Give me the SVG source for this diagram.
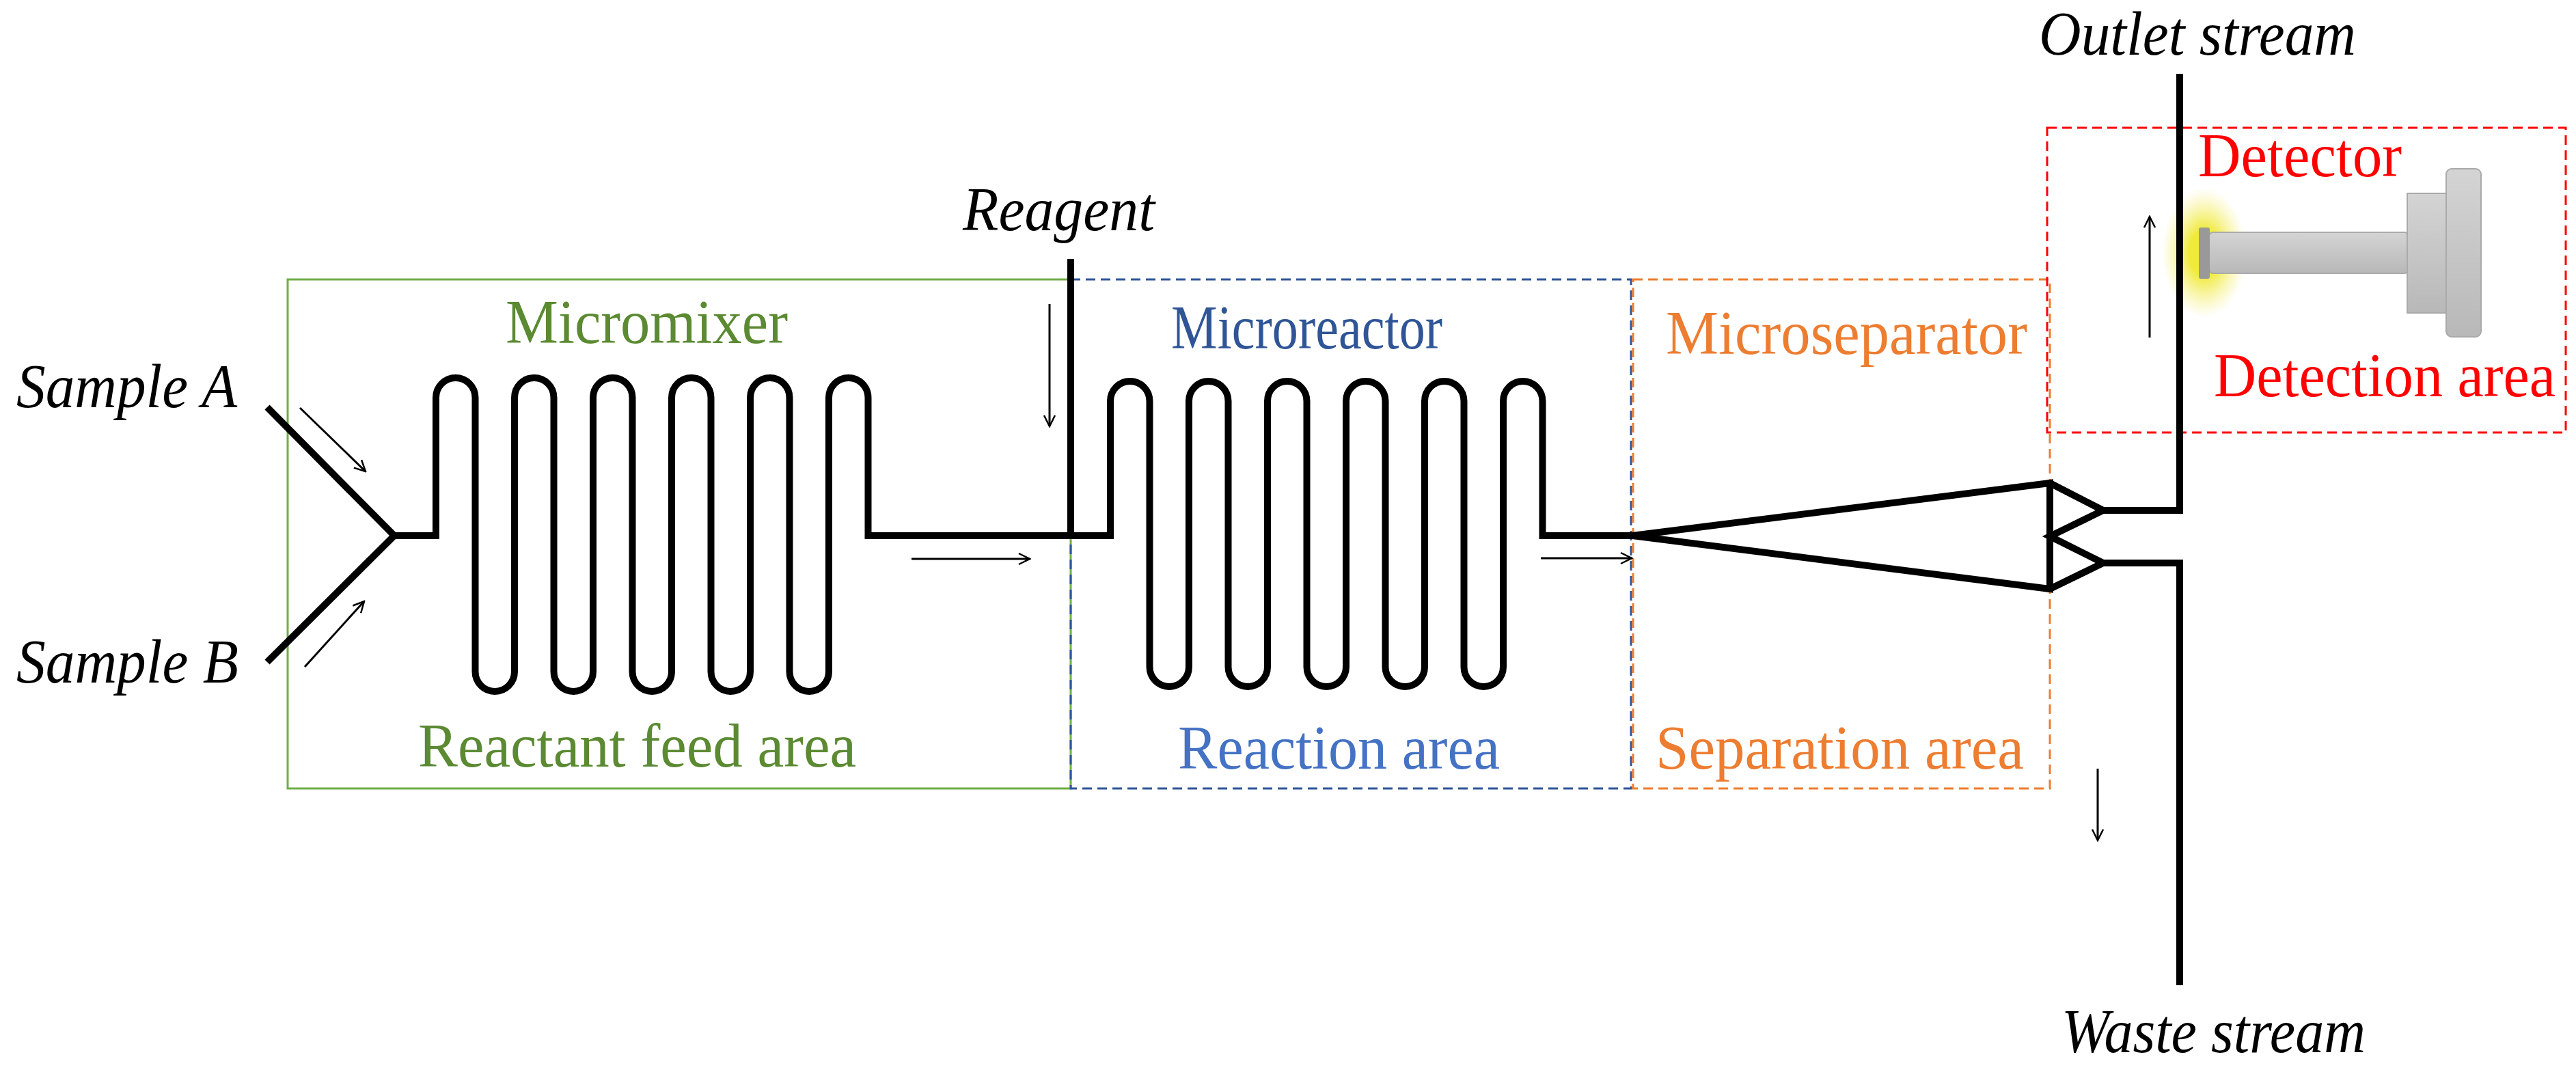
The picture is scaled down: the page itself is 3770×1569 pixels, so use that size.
<svg xmlns="http://www.w3.org/2000/svg" width="3770" height="1569" viewBox="0 0 3770 1569">
<defs>
<marker id="ah" viewBox="0 0 20 20" refX="18" refY="10" markerWidth="20" markerHeight="20" markerUnits="userSpaceOnUse" orient="auto"><path d="M2,2 L18,10 L2,18" fill="none" stroke="#000" stroke-width="2.5"/></marker>
<radialGradient id="glow"><stop offset="0.35" stop-color="#f0ea3a"/><stop offset="1" stop-color="#f6f080" stop-opacity="0"/></radialGradient>
<linearGradient id="metal" x1="0" y1="0" x2="0" y2="1"><stop offset="0" stop-color="#d4d4d4"/><stop offset="1" stop-color="#b8b8b8"/></linearGradient>
</defs>
<style>
.ch{fill:none;stroke:#000;stroke-width:10;stroke-linejoin:miter}
.ar{fill:none;stroke:#000;stroke-width:3;marker-end:url(#ah)}
.t{font-family:"Liberation Serif","Times New Roman",serif;font-size:90px}
.i{font-style:italic;fill:#000}
</style>
<rect width="3770" height="1569" fill="#fff"/>
<g id="reactant-feed-area"><rect x="421" y="409" width="1146" height="745" fill="none" stroke="#70ad47" stroke-width="3"/>
<text class="t" x="740" y="502" textLength="413" lengthAdjust="spacingAndGlyphs" fill="#5b8a32">Micromixer</text>
<text class="t" x="612" y="1122" textLength="641" lengthAdjust="spacingAndGlyphs" fill="#5b8a32">Reactant feed area</text></g>
<g id="reaction-area"><rect x="1567" y="409" width="820" height="745" fill="none" stroke="#2f5597" stroke-width="3" stroke-dasharray="14,8"/>
<text class="t" x="1714" y="510" textLength="397" lengthAdjust="spacingAndGlyphs" fill="#2f5597">Microreactor</text>
<text class="t" x="1724" y="1125" textLength="471" lengthAdjust="spacingAndGlyphs" fill="#4472c4">Reaction area</text></g>
<g id="separation-area"><rect x="2390" y="409" width="610" height="745" fill="none" stroke="#ed7d31" stroke-width="3" stroke-dasharray="14,8"/>
<text class="t" x="2438" y="518" textLength="529" lengthAdjust="spacingAndGlyphs" fill="#ed7d31">Microseparator</text>
<text class="t" x="2423" y="1125" textLength="539" lengthAdjust="spacingAndGlyphs" fill="#ed7d31">Separation area</text></g>
<g id="detection-area"><rect x="2996" y="187" width="759" height="446" fill="none" stroke="#ff0000" stroke-width="3" stroke-dasharray="14,8"/>
<text class="t" x="3217" y="258" textLength="298" lengthAdjust="spacingAndGlyphs" fill="#ff0000">Detector</text>
<text class="t" x="3240" y="580" textLength="500" lengthAdjust="spacingAndGlyphs" fill="#ff0000">Detection area</text></g>
<g id="detector">
<ellipse cx="3226" cy="370" rx="62" ry="95" fill="url(#glow)"/>
<rect x="3233" y="340" width="292" height="60" rx="6" fill="url(#metal)" stroke="#aaa" stroke-width="2"/>
<rect x="3523" y="283" width="58" height="175" fill="url(#metal)" stroke="#aaa" stroke-width="2"/>
<rect x="3580" y="247" width="51" height="246" rx="8" fill="url(#metal)" stroke="#aaa" stroke-width="2"/>
<rect x="3218" y="333" width="16" height="75" rx="3" fill="#999"/>
</g>
<g id="labels">
<text class="t i" x="24" y="596" textLength="323" lengthAdjust="spacingAndGlyphs">Sample A</text>
<text class="t i" x="24" y="999" textLength="325" lengthAdjust="spacingAndGlyphs">Sample B</text>
<text class="t i" x="1409" y="337" textLength="281" lengthAdjust="spacingAndGlyphs">Reagent</text>
<text class="t i" x="2984" y="80" textLength="464" lengthAdjust="spacingAndGlyphs">Outlet stream</text>
<text class="t i" x="3017" y="1540" textLength="445" lengthAdjust="spacingAndGlyphs">Waste stream</text>
</g>
<g id="connectors">
<path class="ch" d="M391,596 L577,784 L391,969"/>
<path class="ch" d="M577,784 H638 V582 a28.75,29 0 0 1 57.5,0 V983 a28.75,29 0 0 0 57.5,0 V582 a28.75,29 0 0 1 57.5,0 V983 a28.75,29 0 0 0 57.5,0 V582 a28.75,29 0 0 1 57.5,0 V983 a28.75,29 0 0 0 57.5,0 V582 a28.75,29 0 0 1 57.5,0 V983 a28.75,29 0 0 0 57.5,0 V582 a28.75,29 0 0 1 57.5,0 V983 a28.75,29 0 0 0 57.5,0 V582 a28.75,29 0 0 1 57.5,0 V784 H1567"/>
<path class="ch" d="M1567,379 V784 H1625 V587 a28.75,29 0 0 1 57.5,0 V976 a28.75,29 0 0 0 57.5,0 V587 a28.75,29 0 0 1 57.5,0 V976 a28.75,29 0 0 0 57.5,0 V587 a28.75,29 0 0 1 57.5,0 V976 a28.75,29 0 0 0 57.5,0 V587 a28.75,29 0 0 1 57.5,0 V976 a28.75,29 0 0 0 57.5,0 V587 a28.75,29 0 0 1 57.5,0 V976 a28.75,29 0 0 0 57.5,0 V587 a28.75,29 0 0 1 57.5,0 V784 H2389"/>
<path class="ch" d="M2389,784 L3000,707 V862 Z"/>
<path class="ch" d="M3000,707 L3078,747 L3000,785 L3078,824 L3000,862"/>
<path class="ch" d="M3078,747 H3190 V108"/>
<path class="ch" d="M3078,824 H3190 V1442"/>
<path class="ar" d="M439,597 L535,690"/>
<path class="ar" d="M446,976 L533,880"/>
<path class="ar" d="M1536,445 V624"/>
<path class="ar" d="M1334,818 H1507"/>
<path class="ar" d="M2255,817 H2388"/>
<path class="ar" d="M3146,494 V317"/>
<path class="ar" d="M3070,1125 V1230"/>
</g>
</svg>
